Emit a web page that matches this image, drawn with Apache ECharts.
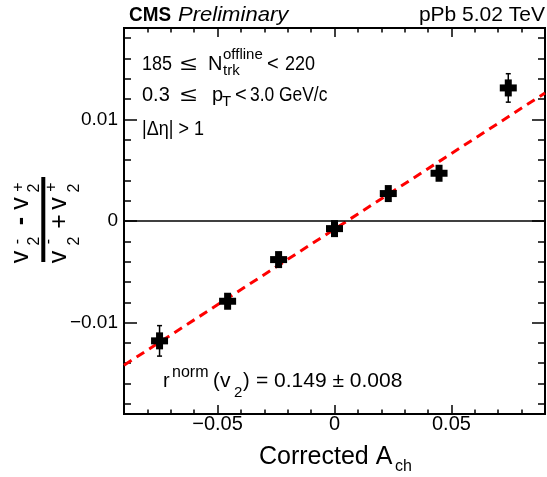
<!DOCTYPE html>
<html lang="en">
<head>
    <meta charset="UTF-8">
    <title>CMS pPb r^norm(v2)</title>
    <script src="https://cdn.jsdelivr.net/npm/echarts@6/dist/echarts.min.js"></script>
    <style type="text/css">
        body { margin: 0; background: #fff; }
    </style>
</head>
<body>
<div id="main" style="width:547px;height:477px;"></div>
<script type="text/javascript">
    // corrected A_ch and (v2- - v2+)/(v2- + v2+)
    var achX   = [-0.0748, -0.0457, -0.0239, 0.0, 0.0230, 0.0447, 0.0743];
    var v2Diff = [-0.0118, -0.0079, -0.0038, -0.00075, 0.0027, 0.0047, 0.0131];
    var v2Err  = [0.0015, 0.0006, 0.0006, 0.0006, 0.0006, 0.0006, 0.0014];
    // linear fit (red dashed)
    var fitX = [-0.09, 0.09];
    var fitY = [-0.0142, 0.0126];
    // ticks
    var xMajor = [-0.05, 0, 0.05];
    var xMinor = [-0.08, -0.07, -0.06, -0.04, -0.03, -0.02, -0.01, 0.01, 0.02, 0.03, 0.04, 0.06, 0.07, 0.08];
    var yMajor = [-0.01, 0, 0.01];
    var yMinor = [-0.018, -0.016, -0.014, -0.012, -0.008, -0.006, -0.004, -0.002,
                  0.002, 0.004, 0.006, 0.008, 0.012, 0.014, 0.016, 0.018];

    var FONT = '"Liberation Sans", Arial, Helvetica, sans-serif';

    var myChart = echarts.init(document.getElementById('main'));

    function fmt(v) {
        if (v === 0) return '0';
        return v < 0 ? '\u2212' + String(-v) : String(v);
    }

    // text placed by its baseline, optional horizontal squeeze
    function txt(x, base, s, size, extra) {
        extra = extra || {};
        return {
            type: 'text', silent: true,
            x: x, y: base - 0.3465 * size,
            scaleX: extra.sx || 1,
            style: {
                text: s, x: 0, y: 0,
                font: (extra.font || '') + ' ' + size + 'px ' + FONT,
                fill: '#000',
                textAlign: extra.align || 'left',
                verticalAlign: 'middle', textVerticalAlign: 'middle'
            }
        };
    }
    // text placed by its middle
    function mid(x, y, s, size, extra) {
        return {
            type: 'text', silent: true,
            style: {
                text: s, x: x, y: y,
                font: (extra && extra.font ? extra.font : '') + ' ' + size + 'px ' + FONT,
                fill: '#000', textAlign: 'center',
                verticalAlign: 'middle', textVerticalAlign: 'middle'
            }
        };
    }

    function xAx(pos, ticks, len, labels) {
        return {
            type: 'value', min: -0.09, max: 0.09, position: pos,
            axisLine: { show: false, onZero: false }, splitLine: { show: false },
            axisTick: { show: true, inside: true, length: len, customValues: ticks,
                        lineStyle: { color: '#000', width: 1.5 } },
            axisLabel: labels ? { show: true, customValues: ticks, formatter: fmt, margin: 0,
                                  color: '#000', fontSize: 20, fontFamily: FONT }
                              : { show: false }
        };
    }
    function yAx(pos, ticks, len, labels) {
        return {
            type: 'value', min: -0.019, max: 0.019, position: pos,
            axisLine: { show: false, onZero: false }, splitLine: { show: false },
            axisTick: { show: true, inside: true, length: len, customValues: ticks,
                        lineStyle: { color: '#000', width: 1.5 } },
            axisLabel: labels ? { show: true, customValues: ticks, formatter: fmt, margin: 6,
                                  color: '#000', fontSize: 19, fontFamily: FONT }
                              : { show: false }
        };
    }

    function renderCross(params, api) {
        var x = api.value(0), y = api.value(1), e = api.value(2);
        var c = api.coord([x, y]);
        var t = api.coord([x, y + e])[1];
        var b = api.coord([x, y - e])[1];
        var ls = { stroke: '#000', lineWidth: 1.5 };
        return {
            type: 'group',
            children: [
                { type: 'line', shape: { x1: c[0], y1: t, x2: c[0], y2: b }, style: ls },
                { type: 'line', shape: { x1: c[0] - 2.5, y1: t, x2: c[0] + 2.5, y2: t }, style: ls },
                { type: 'line', shape: { x1: c[0] - 2.5, y1: b, x2: c[0] + 2.5, y2: b }, style: ls },
                { type: 'rect', shape: { x: c[0] - 8.5, y: c[1] - 3.5, width: 17, height: 7 }, style: { fill: '#000' } },
                { type: 'rect', shape: { x: c[0] - 3.5, y: c[1] - 8.5, width: 7, height: 17 }, style: { fill: '#000' } }
            ]
        };
    }

    // y axis title: (v2- - v2+)/(v2- + v2+), rotated
    var yTitle = [
        // numerator
        txt(-36, -13.6, 'v', 25, { align: 'center' }),
        txt(-20, -3.6, '2', 16, { align: 'center' }),
        mid(-20.5, -26, '-', 16),
        mid(0, -21.7, '-', 25, { font: 'bold' }),
        txt(17.5, -13.6, 'v', 25, { align: 'center' }),
        txt(33, -3.6, '2', 16, { align: 'center' }),
        mid(34, -24.3, '+', 16),
        // denominator
        txt(-36, 24.7, 'v', 25, { align: 'center' }),
        txt(-20, 36.7, '2', 16, { align: 'center' }),
        mid(-20.5, 5, '-', 16),
        mid(-0.5, 17.2, '+', 25),
        txt(17.5, 24.7, 'v', 25, { align: 'center' }),
        txt(33, 36.7, '2', 16, { align: 'center' }),
        mid(34, 8.7, '+', 16)
    ];

    var B1 = 71.5, B2 = 102, B3 = 136;

    option = {
        animation: false,
        backgroundColor: '#fff',
        grid: { left: 124, top: 28, width: 421, height: 386, show: true,
                borderColor: '#000', borderWidth: 2, backgroundColor: 'transparent' },
        xAxis: [
            xAx('bottom', xMajor, 9, true),
            xAx('bottom', xMinor, 4.5, false),
            xAx('top', xMajor, 9, false),
            xAx('top', xMinor, 4.5, false)
        ],
        yAxis: [
            yAx('left', yMajor, 13, true),
            yAx('left', yMinor, 7, false),
            yAx('right', yMajor, 13, false),
            yAx('right', yMinor, 7, false)
        ],
        graphic: [
            // header
            txt(129, 22.7, 'CMS', 21, { font: 'bold', sx: 0.9 }),
            txt(178, 22.7, 'Preliminary', 21, { font: 'italic', sx: 1.05 }),
            txt(545, 22.7, 'pPb 5.02 TeV', 21, { align: 'right' }),
            // selection text
            txt(142, B1, '185', 20, { sx: 0.9 }),
            txt(180, B1, '\u2264', 20, { sx: 1.5 }),
            txt(208, B1, 'N', 20),
            txt(223, B1 - 11.5, 'offline', 15),
            txt(223, B1 + 4.5, 'trk', 15),
            txt(267, B1, '<', 20),
            txt(285, B1, '220', 20, { sx: 0.9 }),
            txt(142, B2, '0.3', 20),
            txt(180, B2, '\u2264', 20, { sx: 1.5 }),
            txt(212, B2, 'p', 20),
            txt(222, B2 + 5.5, 'T', 15),
            txt(235, B2, '<', 20),
            txt(250, B2, '3.0 GeV/c', 20, { sx: 0.87 }),
            txt(142, B3, '|\u0394\u03b7| > 1', 20, { sx: 0.9 }),
            // fit result
            txt(163, 388, 'r', 20),
            txt(172, 378.3, 'norm', 16),
            txt(213, 388, '(', 20),
            txt(220, 388, 'v', 21),
            txt(234, 398, '2', 15),
            txt(243, 388, ')', 20),
            txt(256, 388, '= 0.149 \u00b1 0.008', 21),
            // x axis title
            txt(259, 466, 'Corrected A', 25),
            txt(395, 472, 'ch', 16),
            // y axis title
            { type: 'rect', silent: true, shape: { x: 41.3, y: 177, width: 4, height: 85 }, style: { fill: '#000' } },
            { type: 'group', x: 43.3, y: 221, rotation: Math.PI / 2, children: yTitle }
        ],
        series: [
            {
                type: 'line',
                data: fitX.map(function (x, i) { return [x, fitY[i]]; }),
                showSymbol: false,
                symbol: 'none',
                lineStyle: { color: '#ff0000', width: 3, type: [9, 6] },
                z: 3,
                markLine: {
                    silent: true,
                    symbol: ['none', 'none'],
                    label: { show: false },
                    lineStyle: { color: '#000', width: 1.5, type: 'solid' },
                    data: [{ yAxis: 0 }]
                }
            },
            {
                type: 'custom',
                renderItem: renderCross,
                data: achX.map(function (x, i) { return [x, v2Diff[i], v2Err[i]]; }),
                z: 5
            }
        ]
    };

    myChart.setOption(option);
</script>
</body>
</html>
